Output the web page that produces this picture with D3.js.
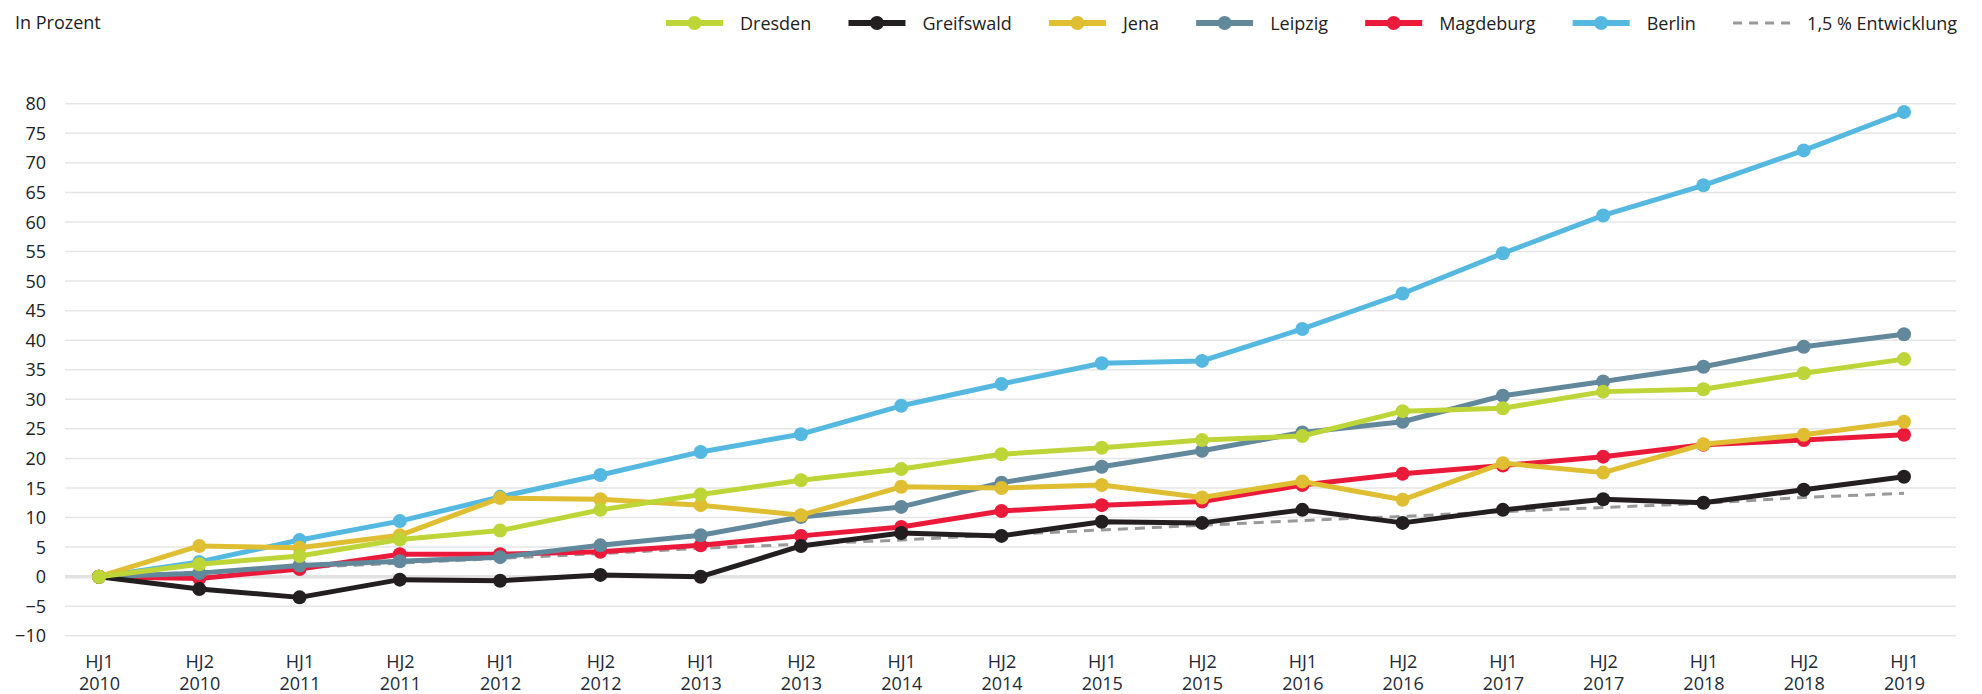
<!DOCTYPE html>
<html><head><meta charset="utf-8">
<script src="https://cdn.jsdelivr.net/npm/d3@7"></script>
<style>
html,body{margin:0;padding:0;background:#fff;}
svg{display:block;font-family:"Open Sans",sans-serif;}
</style></head>
<body><svg id="c" width="1982" height="694"></svg>
<script>
const categories = ["HJ1 2010","HJ2 2010","HJ1 2011","HJ2 2011","HJ1 2012","HJ2 2012","HJ1 2013","HJ2 2013","HJ1 2014","HJ2 2014","HJ1 2015","HJ2 2015","HJ1 2016","HJ2 2016","HJ1 2017","HJ2 2017","HJ1 2018","HJ2 2018","HJ1 2019"];
const yTicks = [-10,-5,0,5,10,15,20,25,30,35,40,45,50,55,60,65,70,75,80];
const dresden    = [0, 2.1, 3.5, 6.3, 7.8, 11.3, 13.9, 16.3, 18.2, 20.7, 21.8, 23.1, 23.8, 28.0, 28.5, 31.3, 31.7, 34.4, 36.8];
const greifswald = [0, -2.1, -3.5, -0.5, -0.7, 0.3, 0.0, 5.2, 7.4, 6.9, 9.3, 9.1, 11.3, 9.1, 11.3, 13.1, 12.5, 14.7, 16.9];
const jena       = [0, 5.2, 4.9, 7.0, 13.3, 13.1, 12.1, 10.4, 15.2, 15.0, 15.5, 13.4, 16.1, 13.0, 19.2, 17.6, 22.4, 24.0, 26.2];
const leipzig    = [0, 0.6, 1.9, 2.6, 3.3, 5.3, 7.0, 10.1, 11.8, 15.9, 18.6, 21.3, 24.4, 26.2, 30.6, 33.0, 35.5, 38.9, 41.0];
const magdeburg  = [0, -0.3, 1.3, 3.8, 3.8, 4.2, 5.3, 6.9, 8.4, 11.1, 12.1, 12.7, 15.5, 17.4, 18.8, 20.3, 22.3, 23.1, 24.0];
const berlin     = [0, 2.5, 6.2, 9.4, 13.5, 17.2, 21.1, 24.1, 28.9, 32.6, 36.1, 36.5, 41.9, 47.9, 54.7, 61.1, 66.2, 72.1, 78.6];
const trend      = [0, 0.8, 1.5, 2.3, 3.1, 3.9, 4.8, 5.5, 6.2, 7.1, 7.9, 8.7, 9.5, 10.2, 11.0, 11.7, 12.4, 13.4, 14.1];

const seriesNames = ["Dresden","Greifswald","Jena","Leipzig","Magdeburg","Berlin"];
const seriesData = [dresden, greifswald, jena, leipzig, magdeburg, berlin];
const colors = {Dresden:"#bdd536",Greifswald:"#231f20",Jena:"#e0be32",Leipzig:"#62889b",Magdeburg:"#eb1a3b",Berlin:"#55b8e1"};
const trendName = "1,5 % Entwicklung";
const unitLabel = "In Prozent";

const svg = d3.select("#c");
const x = d3.scalePoint().domain(categories).range([99, 1904]);
const y = d3.scaleLinear().domain([-10, 80]).range([635.8, 103.7]);
const gridX0 = 65, gridX1 = 1956;

// gridlines
const g = svg.append("g");
g.selectAll("line.grid").data(yTicks).enter().append("line")
  .attr("x1", gridX0).attr("x2", gridX1)
  .attr("y1", d => y(d)).attr("y2", d => y(d))
  .attr("stroke", d => d === 0 ? "#e2e2e2" : "#e6e6e6")
  .attr("stroke-width", d => d === 0 ? 3.5 : 1.5);

// y axis labels
const yAxis = d3.axisLeft(y).tickValues(yTicks).tickSize(0).tickPadding(0).tickFormat(d3.format("d"));
const ya = svg.append("g").attr("transform", "translate(46,0)").call(yAxis);
ya.select(".domain").remove();
ya.selectAll("text").attr("font-family", "Open Sans").attr("font-size", 18).attr("fill", "#222").attr("dy", "0.34em");

// x axis labels (two lines)
const xAxis = d3.axisBottom(x).tickSize(0).tickFormat("");
const xa = svg.append("g").attr("transform", "translate(0,650)").call(xAxis);
xa.select(".domain").remove();
xa.selectAll(".tick").each(function(d){
  const parts = d.split(" ");
  const t = d3.select(this).append("text").attr("text-anchor","middle")
    .attr("font-family","Open Sans").attr("font-size",18).attr("fill","#1d2a35");
  t.append("tspan").attr("x",0).attr("y",18).text(parts[0]);
  t.append("tspan").attr("x",0).attr("y",40).text(parts[1]);
});

// trend line
const line = d3.line().x((d,i) => x(categories[i])).y(d => y(d));
svg.append("path").datum(trend).attr("d", line).attr("fill","none")
  .attr("stroke","#999").attr("stroke-width",3).attr("stroke-dasharray","10,7");

// series draw order (bottom -> top)
const drawOrder = ["Berlin","Magdeburg","Leipzig","Greifswald","Jena","Dresden"];
drawOrder.forEach(name => {
  const data = seriesData[seriesNames.indexOf(name)];
  const sg = svg.append("g");
  sg.append("path").datum(data).attr("d", line).attr("fill","none")
    .attr("stroke", colors[name]).attr("stroke-width",5).attr("stroke-linejoin","round");
  sg.selectAll("circle").data(data).enter().append("circle")
    .attr("cx",(d,i)=>x(categories[i])).attr("cy",d=>y(d)).attr("r",7).attr("fill",colors[name]);
});

// unit label
svg.append("text").attr("x",15).attr("y",29).attr("font-size",18).attr("fill","#222").text(unitLabel);

// legend spanning from left start to right edge
const legendItems = seriesNames.map(n => ({name:n, color:colors[n], dashed:false})).concat([{name:trendName, color:"#999", dashed:true}]);
const lg = svg.append("g");
const tmp = lg.append("text").attr("font-size",18);
const widths = legendItems.map(it => { tmp.text(it.name); return tmp.node().getComputedTextLength(); });
tmp.remove();
const symW = 57, symGap = 17, legendLeft = 666, legendRight = 1957, legendY = 23;
let content = 0;
widths.forEach(w => { content += symW + symGap + w; });
const itemGap = (legendRight - legendLeft - content) / (widths.length - 1);
let cx = legendLeft;
legendItems.forEach((it,i) => {
  const ig = lg.append("g").attr("transform", `translate(${cx},0)`);
  if (it.dashed) {
    ig.append("line").attr("x1",0).attr("x2",symW).attr("y1",legendY).attr("y2",legendY)
      .attr("stroke",it.color).attr("stroke-width",3).attr("stroke-dasharray","9,7");
  } else {
    ig.append("line").attr("x1",0).attr("x2",symW).attr("y1",legendY).attr("y2",legendY)
      .attr("stroke",it.color).attr("stroke-width",6);
    ig.append("circle").attr("cx",symW/2).attr("cy",legendY).attr("r",7).attr("fill",it.color);
  }
  ig.append("text").attr("x",symW+symGap).attr("y",legendY+6.5).attr("font-size",18).attr("fill","#222").text(it.name);
  cx += symW + symGap + widths[i] + itemGap;
});
</script></body></html>
